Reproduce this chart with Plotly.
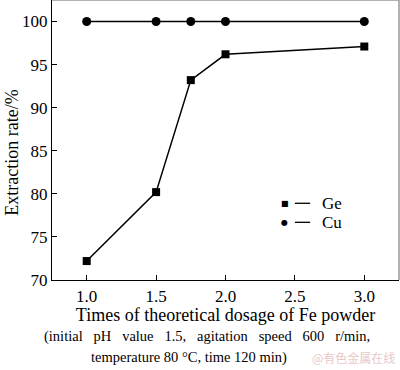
import plotly.graph_objects as go

dosage = [1.0, 1.5, 1.75, 2.0, 3.0]
ge_rate = [72.2, 80.2, 93.2, 96.2, 97.1]
cu_rate = [100.0, 100.0, 100.0, 100.0, 100.0]
x_ticks = [1.0, 1.5, 2.0, 2.5, 3.0]
y_ticks = [70, 75, 80, 85, 90, 95, 100]

FONT = "Liberation Serif"

fig = go.Figure()
fig.add_trace(go.Scatter(x=dosage, y=ge_rate, mode="lines+markers", name="Ge",
                         line=dict(color="black", width=1.5),
                         marker=dict(symbol="square", size=8, color="black")))
fig.add_trace(go.Scatter(x=dosage, y=cu_rate, mode="lines+markers", name="Cu",
                         line=dict(color="black", width=1.5),
                         marker=dict(symbol="circle", size=9, color="black")))

fig.update_layout(
    width=400, height=370,
    margin=dict(l=52, r=1, t=0, b=90),
    paper_bgcolor="white", plot_bgcolor="white",
    showlegend=False,
    font=dict(family=FONT, color="black", size=17),
    xaxis=dict(range=[0.75, 3.25], tickvals=x_ticks, tickformat=".1f",
               ticks="inside", ticklen=5, tickcolor="black",
               showline=True, linecolor="black", linewidth=1.2,
               showgrid=False, zeroline=False,
               tickfont=dict(family=FONT, size=17),
               title=dict(text="Times of theoretical dosage of Fe powder",
                          font=dict(family=FONT, size=18), standoff=2)),
    yaxis=dict(range=[70, 102.5], tickvals=y_ticks,
               ticks="inside", ticklen=5, tickcolor="black",
               showline=True, linecolor="black", linewidth=1.2,
               showgrid=False, zeroline=False,
               tickfont=dict(family=FONT, size=17)),
)

# y-axis title
fig.add_annotation(xref="paper", yref="paper", x=-0.115, y=0.455, text="Extraction rate/%",
                   textangle=-90, showarrow=False, xanchor="center", yanchor="middle",
                   font=dict(family=FONT, size=18, color="black"))

# gray top/right frame
fig.add_shape(type="line", xref="paper", yref="paper", x0=0, x1=1, y0=1, y1=1,
              line=dict(color="#999999", width=1.5))
fig.add_shape(type="line", xref="paper", yref="paper", x0=1, x1=1, y0=0, y1=1,
              line=dict(color="#999999", width=1.5))

# legend (manual)
legend_items = [("\u25A0", "Ge", 0.274), ("\u25CF", "Cu", 0.206)]
for sym, name, yy in legend_items:
    fig.add_annotation(xref="paper", yref="paper", x=0.671, y=yy, text=sym,
                       showarrow=False, xanchor="center", yanchor="middle",
                       font=dict(family="DejaVu Sans", size=8, color="black"))
    fig.add_shape(type="line", xref="paper", yref="paper", x0=0.700, x1=0.744,
                  y0=yy, y1=yy, line=dict(color="black", width=1.3))
    fig.add_annotation(xref="paper", yref="paper", x=0.772, y=yy, text=name,
                       showarrow=False, xanchor="left", yanchor="middle",
                       font=dict(family=FONT, size=17, color="black"))

# caption
fig.add_annotation(xref="paper", yref="paper", x=0.446, y=-0.2, yanchor="middle",
                   xanchor="center",
                   text="(initial&nbsp;&nbsp;&nbsp;pH&nbsp;&nbsp;&nbsp;value&nbsp;&nbsp;&nbsp;1.5,&nbsp;&nbsp;&nbsp;agitation&nbsp;&nbsp;&nbsp;speed&nbsp;&nbsp;&nbsp;600&nbsp;&nbsp;&nbsp;r/min,",
                   showarrow=False, font=dict(family=FONT, size=14.5, color="black"))
fig.add_annotation(xref="paper", yref="paper", x=0.396, y=-0.277, yanchor="middle",
                   xanchor="center",
                   text="temperature 80 °C, time 120 min)",
                   showarrow=False, font=dict(family=FONT, size=14.5, color="black"))
fig.add_annotation(xref="paper", yref="paper", x=0.995, y=-0.277, yanchor="middle",
                   xanchor="right",
                   text="@有色金属在线",
                   showarrow=False, font=dict(family="Noto Sans CJK SC", size=12, color="#e8c8c8"))

fig.write_html("out.html", config={"displayModeBar": False},
               post_script="document.body.style.margin='0px';")
